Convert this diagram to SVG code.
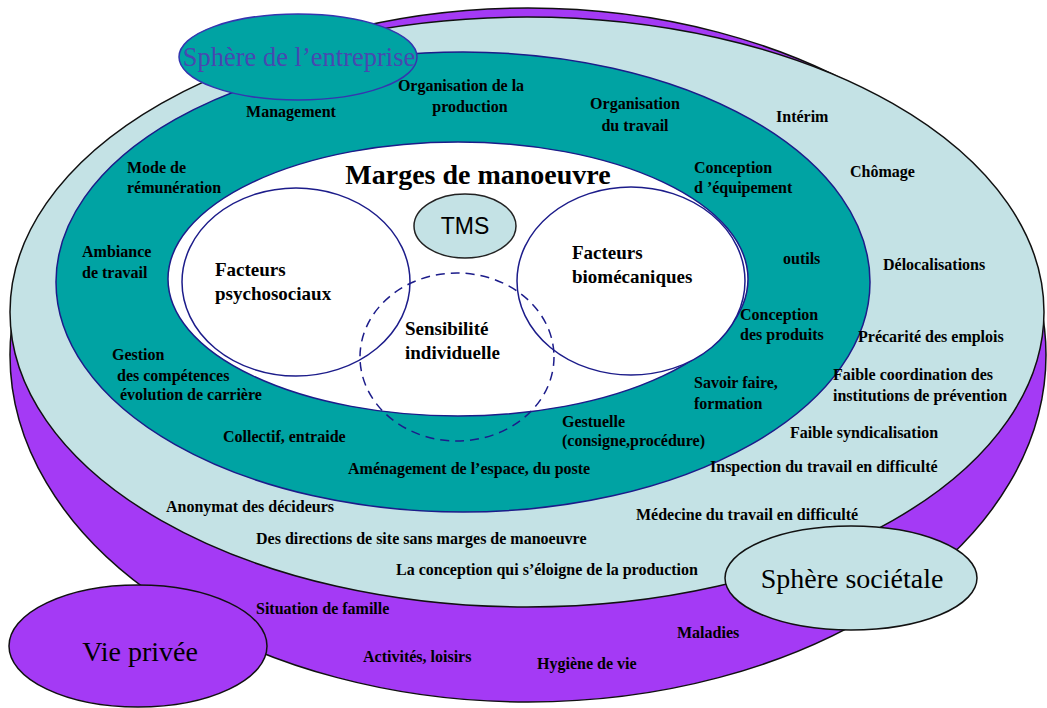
<svg xmlns="http://www.w3.org/2000/svg" width="1047" height="708" viewBox="0 0 1047 708">
<style>
.t{font-family:"Liberation Serif","Times New Roman",serif;font-size:16px;font-weight:bold;fill:#000}
.h{font-family:"Liberation Serif","Times New Roman",serif;font-weight:bold;fill:#000}
.big{font-family:"Liberation Serif","Times New Roman",serif;font-size:28px;fill:#000}
.m{text-anchor:middle}
</style>
<rect width="1047" height="708" fill="#fff"/>
<g id="vie-privee-sphere">
<ellipse cx="528" cy="355" rx="518" ry="347" fill="#a43af5" stroke="#111" stroke-width="1.5"/>
</g>
<g id="sphere-societale-zone">
<ellipse cx="527" cy="312" rx="517" ry="295" fill="#c4e2e5" stroke="#111" stroke-width="1.5"/>
</g>
<g id="entreprise-zone">
<ellipse cx="463" cy="282" rx="407" ry="230" fill="#00a3a3" stroke="#1c1c8a" stroke-width="1.5"/>
</g>
<g id="label-entreprise">
<ellipse cx="298" cy="57" rx="119" ry="43" fill="#00a3a3" stroke="#3535b0" stroke-width="1.5"/>
<text x="299" y="66" class="m" style="font-family:'Liberation Serif','Times New Roman',serif;font-size:26.5px;fill:#4848b0">Sphère de l’entreprise</text>
</g>
<g id="marges">
<ellipse cx="458" cy="279" rx="290" ry="137" fill="#fff" stroke="#1c1c8a" stroke-width="1.5"/>
<text x="478" y="184" class="h m" font-size="28">Marges de manoeuvre</text>
</g>
<g id="psychosociaux">
<ellipse cx="296" cy="282" rx="114" ry="94" fill="#fff" stroke="#1c1c8a" stroke-width="1.5"/>
<text x="215" y="276" class="h" font-size="19">Facteurs</text>
<text x="215" y="300" class="h" font-size="19">psychosociaux</text>
</g>
<g id="biomecaniques">
<ellipse cx="631" cy="281" rx="114" ry="94" fill="#fff" stroke="#1c1c8a" stroke-width="1.5"/>
<text x="572" y="259" class="h" font-size="19">Facteurs</text>
<text x="572" y="283" class="h" font-size="19">biomécaniques</text>
</g>
<g id="sensibilite">
<ellipse cx="457" cy="357" rx="97" ry="84" fill="none" stroke="#1c1c8a" stroke-width="1.5" stroke-dasharray="9,6"/>
<text x="405" y="335" class="h" font-size="19">Sensibilité</text>
<text x="405" y="359" class="h" font-size="19">individuelle</text>
</g>
<g id="tms">
<ellipse cx="465" cy="226" rx="51" ry="32" fill="#c4e2e5" stroke="#222" stroke-width="1.5"/>
<text x="465" y="234" class="m" style="font-family:'Liberation Sans',Arial,sans-serif;font-size:23px;fill:#000">TMS</text>
</g>
<g id="entreprise-factors">
<text x="291" y="117" class="t m">Management</text>
<text x="461" y="91" class="t m">Organisation de la</text>
<text x="470" y="112" class="t m">production</text>
<text x="635" y="109" class="t m">Organisation</text>
<text x="635" y="131" class="t m">du travail</text>
<text x="694" y="173" class="t">Conception</text>
<text x="694" y="193" class="t">d ’équipement</text>
<text x="127" y="173" class="t">Mode de</text>
<text x="127" y="193" class="t">rémunération</text>
<text x="82" y="257" class="t">Ambiance</text>
<text x="82" y="278" class="t">de travail</text>
<text x="112" y="360" class="t">Gestion</text>
<text x="117" y="381" class="t">des compétences</text>
<text x="120" y="400" class="t">évolution de carrière</text>
<text x="223" y="442" class="t">Collectif, entraide</text>
<text x="348" y="474" class="t">Aménagement de l’espace, du poste</text>
<text x="562" y="427" class="t">Gestuelle</text>
<text x="562" y="446" class="t">(consigne,procédure)</text>
<text x="694" y="388" class="t">Savoir faire,</text>
<text x="694" y="409" class="t">formation</text>
<text x="740" y="320" class="t">Conception</text>
<text x="740" y="340" class="t">des produits</text>
<text x="783" y="264" class="t">outils</text>
</g>
<g id="societal-factors">
<text x="776" y="122" class="t">Intérim</text>
<text x="850" y="177" class="t">Chômage</text>
<text x="883" y="270" class="t">Délocalisations</text>
<text x="858" y="342" class="t">Précarité des emplois</text>
<text x="833" y="380" class="t">Faible coordination des</text>
<text x="833" y="401" class="t">institutions de prévention</text>
<text x="790" y="438" class="t">Faible syndicalisation</text>
<text x="710" y="472" class="t">Inspection du travail en difficulté</text>
<text x="636" y="520" class="t">Médecine du travail en difficulté</text>
<text x="166" y="512" class="t">Anonymat des décideurs</text>
<text x="256" y="544" class="t">Des directions de site sans marges de manoeuvre</text>
<text x="396" y="575" class="t">La conception qui s’éloigne de la production</text>
</g>
<g id="private-factors">
<text x="256" y="614" class="t">Situation de famille</text>
<text x="363" y="662" class="t">Activités, loisirs</text>
<text x="537" y="669" class="t">Hygiène de vie</text>
<text x="677" y="638" class="t">Maladies</text>
</g>
<g id="label-societale">
<ellipse cx="851" cy="578" rx="126" ry="52" fill="#c4e2e5" stroke="#111" stroke-width="1.5"/>
<text x="852" y="588" class="big m">Sphère sociétale</text>
</g>
<g id="label-vie-privee">
<ellipse cx="138" cy="646" rx="129" ry="61" fill="#a43af5" stroke="#111" stroke-width="1.5"/>
<text x="140" y="661" class="big m">Vie privée</text>
</g>
<g id="connectors"/>
</svg>
